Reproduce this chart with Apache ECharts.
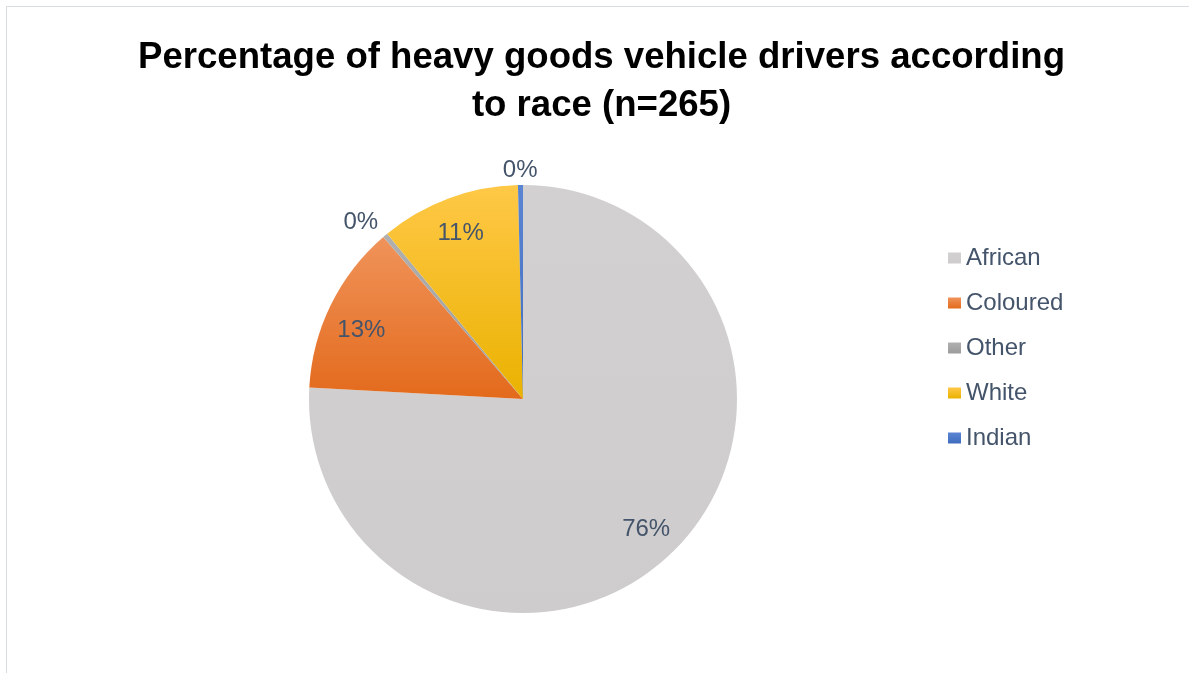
<!DOCTYPE html>
<html>
<head>
<meta charset="utf-8">
<title>Heavy goods vehicle drivers by race</title>
<script src="https://cdn.jsdelivr.net/npm/echarts@6/dist/echarts.min.js"></script>
<style>
  html, body { margin: 0; padding: 0; width: 1189px; height: 673px; overflow: hidden; background: #ffffff; }
  #frame { position: absolute; left: 6px; top: 6px; width: 2000px; height: 2000px; border: 1px solid #d9dce1; box-sizing: border-box; }
  #chart { position: absolute; left: 7px; top: 7px; width: 1189px; height: 673px; }
</style>
</head>
<body>
<div id="frame"></div>
<div id="chart"></div>
<script>
// Drivers surveyed (n = 265), by race
const categories = ['African', 'Coloured', 'Other', 'White', 'Indian'];
const driverCounts = [201, 34, 1, 28, 1];

const titleText = 'Percentage of heavy goods vehicle drivers according\nto race (n=265)';
const textColor = '#44546A';

function vgrad(top, bottom) {
  return new echarts.graphic.LinearGradient(0, 0, 0, 1, [
    { offset: 0, color: top },
    { offset: 1, color: bottom }
  ]);
}

const sliceColors = {
  African: vgrad('#D2D0D0', '#CECCCC'),
  Coloured: vgrad('#F0935A', '#E36A1C'),
  Other: vgrad('#B0B0B0', '#9C9C9C'),
  White: vgrad('#FFC847', '#EAB200'),
  Indian: vgrad('#5A85D2', '#3F6CBE')
};

// Small nudges for individual percentage labels (pixels)
const labelNudge = {
  Coloured: [-1, 10],
  White: [0, 2],
  Other: [-7, 8],
  Indian: [0, 12]
};

const total = driverCounts.reduce((a, b) => a + b, 0);
const isSmall = (v) => v / total < 0.02;

const center = [516, 392];
const radius = 214;

const pieData = categories.map((name, i) => ({
  name,
  value: driverCounts[i],
  itemStyle: { color: sliceColors[name] }
}));

// Transparent rings that carry the percentage labels at the right distance from the centre
function labelRing(showFn) {
  return categories.map((name, i) => ({
    name,
    value: driverCounts[i],
    label: { show: showFn(driverCounts[i]) }
  }));
}

function nudgeLabel(params) {
  const n = labelNudge[categories[params.dataIndex]];
  return n ? { dx: n[0], dy: n[1] } : {};
}

const labelStyle = {
  position: 'inside',
  formatter: '{d}%',
  color: textColor,
  fontFamily: 'Liberation Sans, Arial, sans-serif',
  fontSize: 24
};

const ringCommon = {
  type: 'pie',
  center,
  startAngle: 90,
  clockwise: true,
  percentPrecision: 0,
  silent: true,
  legendHoverLink: false,
  itemStyle: { color: 'rgba(0,0,0,0)', borderWidth: 0 },
  labelLine: { show: false },
  labelLayout: nudgeLabel,
  emphasis: { disabled: true }
};

const chart = echarts.init(document.getElementById('chart'), null, { renderer: 'canvas' });

chart.setOption({
  animation: false,
  backgroundColor: 'transparent',
  title: {
    text: titleText,
    left: 'center',
    top: 27,
    padding: 0,
    textStyle: {
      fontFamily: 'Liberation Sans, Arial, sans-serif',
      fontWeight: 'bold',
      fontSize: 36.6,
      lineHeight: 48,
      color: '#000000'
    }
  },
  legend: {
    orient: 'vertical',
    left: 941,
    top: 239,
    padding: 0,
    itemWidth: 13,
    itemHeight: 11,
    itemGap: 21,
    icon: 'rect',
    data: categories,
    textStyle: {
      fontFamily: 'Liberation Sans, Arial, sans-serif',
      fontSize: 24,
      color: textColor
    },
    selectedMode: false
  },
  series: [
    {
      name: 'Drivers',
      type: 'pie',
      center,
      radius: [0, radius],
      startAngle: 90,
      clockwise: true,
      percentPrecision: 0,
      label: { show: false },
      labelLine: { show: false },
      itemStyle: { borderWidth: 0 },
      emphasis: { disabled: true },
      data: pieData
    },
    Object.assign({}, ringCommon, {
      name: 'Inner labels',
      radius: [radius * 0.645, radius],
      label: labelStyle,
      data: labelRing((v) => !isSmall(v))
    }),
    Object.assign({}, ringCommon, {
      name: 'Outer labels',
      radius: [radius, radius + 48],
      label: labelStyle,
      data: labelRing((v) => isSmall(v))
    })
  ]
});
</script>
</body>
</html>
